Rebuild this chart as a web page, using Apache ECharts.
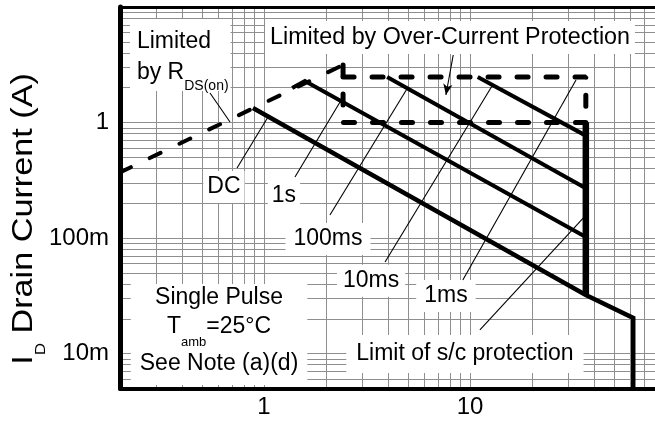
<!DOCTYPE html>
<html>
<head>
<meta charset="utf-8">
<script src="https://cdn.jsdelivr.net/npm/echarts@6/dist/echarts.min.js"></script>
<style>
html,body{margin:0;padding:0;background:#fff;}
#chart{width:655px;height:422px;}
</style>
</head>
<body>
<div id="chart"></div>
<script>
// ---------- axes ----------
const xRange = [0.2, 100];      // V_DS (V), log
const yRange = [0.005, 10];     // I_D (A), log
const xTickValues = [1, 10];
const xTickText = ['1', '10'];
const yTickValues = [0.01, 0.1, 1];
const yTickText = ['10m', '100m', '1'];
const xGridValues = [0.3,0.4,0.5,0.6,0.7,0.8,0.9,1,2,3,4,5,6,7,8,9,10,20,30,40,50,60,70,80,90];
const yGridValues = [0.006,0.007,0.008,0.009,0.01,0.02,0.03,0.04,0.05,0.06,0.07,0.08,0.09,
                     0.1,0.2,0.3,0.4,0.5,0.6,0.7,0.8,0.9,1,2,3,4,5,6,7,8,9];

// ---------- SOA boundaries [V_DS, I_D] ----------
const rdsOnLimit       = [[0.2, 0.37], [2.42, 3.15]];
const overCurrentLimit = [[2.42, 3.15], [2.42, 1.0], [36.5, 1.0]];
const pulse1ms         = [[2.42, 2.48], [36.5, 2.48], [36.5, 1.0]];
const pulse10ms        = [[10.9, 2.48], [36.5, 0.77]];
const pulse100ms       = [[3.96, 2.48], [36.5, 0.27]];
const pulse1s          = [[1.37, 1.99], [1.58, 2.29], [36.5, 0.102]];
const dcLine           = [[0.884, 1.335], [36.5, 0.0321], [62, 0.0203], [62, 0.005]];
const scProtection     = [[36.5, 1.0], [36.5, 0.0321]];

// ---------- leader lines [V_DS, I_D] ----------
const leaderRds   = [[0.547, 1.80], [0.684, 1.01]];
const leaderOcp   = [[8.29, 3.84], [7.64, 1.73]];
const leaderDC    = [[0.74, 0.404], [1.046, 1.116]];
const leader1s    = [[1.414, 0.337], [2.34, 1.505]];
const leader100ms = [[2.09, 0.158], [4.94, 1.95]];
const leader10ms  = [[3.87, 0.0619], [12.79, 2.07]];
const leader1ms   = [[9.23, 0.0433], [32.7, 2.334]];
const leaderSc    = [[11.17, 0.0160], [35.8, 0.152]];

// ---------- annotation texts and anchors (data coords) ----------
const noteTexts = {
  rds: 'Limited\n{m|by R}{s|DS(on)}',
  ocp: 'Limited by Over-Current Protection',
  dc: 'DC',
  s1: '1s',
  ms100: '100ms',
  ms10: '10ms',
  ms1: '1ms',
  sc: 'Limit of s/c protection',
  pulse: 'Single Pulse\n{t|T}{a|amb}{t|=25°C}\n{n|See Note (a)(d)}'
};
const noteAnchors = {
  rds: [0.2235, 7.87],
  ocp: [8.0, 5.44],
  dc: [0.639, 0.276],
  s1: [1.25, 0.231],
  ms100: [2.045, 0.0983],
  ms10: [3.31, 0.0426],
  ms1: [7.64, 0.0315],
  sc: [9.45, 0.00993],
  pulse: [0.605, 0.04]
};
const yTitle = '{m|I}{s|D}{m| Drain Current (A)}';

// ---------- styles ----------
const FONT = '"Liberation Sans", Arial, Helvetica, sans-serif';
const INK = '#000';
const GRID = '#8e8e8e';

function tickFormatter(values, texts) {
  return function (v) {
    const i = values.findIndex(t => Math.abs(Math.log10(v) - Math.log10(t)) < 1e-6);
    return i < 0 ? '' : texts[i];
  };
}
function curve(name, data, width, dash) {
  return {
    name, type: 'line', data, z: 4, showSymbol: false, symbol: 'none', silent: true,
    clip: true,
    lineStyle: dash
      ? { color: INK, width, type: dash, cap: 'round' }
      : { color: INK, width, cap: 'butt', join: 'miter' }
  };
}
function leader(name, data) {
  return { name, type: 'line', data, z: 3, showSymbol: false, symbol: 'none', silent: true,
           lineStyle: { color: INK, width: 1.1 } };
}

const gridSegments = xGridValues.map(v => ({ coords: [[v, yRange[0]], [v, yRange[1]]] }))
  .concat(yGridValues.map(v => ({ coords: [[xRange[0], v], [xRange[1], v]] })));

const chart = echarts.init(document.getElementById('chart'), null, { renderer: 'canvas' });

const option = {
  animation: false,
  backgroundColor: '#fff',
  grid: { left: 120, top: 7, width: 556, height: 381.3, containLabel: false, outerBoundsMode: 'none' },
  xAxis: [{
    type: 'log', logBase: 10, min: xRange[0], max: xRange[1], z: 6,
    axisLine: { show: true, lineStyle: { color: INK, width: 4 } },
    axisTick: { show: false },
    splitLine: { show: false },
    minorTick: { show: false }, minorSplitLine: { show: false },
    axisLabel: { show: true, margin: 7, color: INK, fontSize: 24, fontFamily: FONT,
                 formatter: tickFormatter(xTickValues, xTickText) }
  }, {
    type: 'log', logBase: 10, min: xRange[0], max: xRange[1], position: 'top', z: 6,
    axisLine: { show: true, lineStyle: { color: INK, width: 3 } },
    axisTick: { show: false }, splitLine: { show: false }, axisLabel: { show: false }
  }],
  yAxis: [{
    type: 'log', logBase: 10, min: yRange[0], max: yRange[1], z: 6,
    axisLine: { show: true, lineStyle: { color: INK, width: 5 } },
    axisTick: { show: false },
    splitLine: { show: false },
    axisLabel: { show: true, margin: 11, color: INK, fontSize: 24, fontFamily: FONT,
                 formatter: tickFormatter(yTickValues, yTickText) }
  }],
  series: [
    {
      name: 'grid', type: 'lines', coordinateSystem: 'cartesian2d', z: 1, silent: true,
      polyline: false, effect: { show: false },
      lineStyle: { color: GRID, width: 1, opacity: 1, curveness: 0 },
      data: gridSegments
    },
    curve('RDS(on) limit', rdsOnLimit, 4, [12, 21]),
    curve('Over-current limit', overCurrentLimit, 5, [11, 18]),
    curve('1ms', pulse1ms, 5, [11, 18]),
    curve('10ms', pulse10ms, 4),
    curve('100ms', pulse100ms, 4),
    curve('1s', pulse1s, 4),
    curve('DC', dcLine, 4.5),
    curve('s/c protection', scProtection, 6.5),
    leader('leader RDS', leaderRds),
    leader('leader DC', leaderDC),
    leader('leader 1s', leader1s),
    leader('leader 100ms', leader100ms),
    leader('leader 10ms', leader10ms),
    leader('leader 1ms', leader1ms),
    leader('leader s/c', leaderSc),
    {
      name: 'leader OCP', type: 'line', data: [], z: 3, silent: true,
      markLine: {
        silent: true, animation: false, symbol: ['none', 'arrow'], symbolSize: [7, 11],
        label: { show: false },
        lineStyle: { color: INK, width: 1.1, type: 'solid' },
        emphasis: { disabled: true },
        data: [[{ coord: leaderOcp[0] }, { coord: leaderOcp[1] }]]
      }
    }
  ]
};
chart.setOption(option);

// ---------- annotation boxes (positioned through the axes) ----------
const base = { fontFamily: FONT, fontSize: 23, fill: INK, backgroundColor: '#fff',
               align: 'center', verticalAlign: 'middle', lineHeight: 26 };
const tok = (size, lh, extra) => Object.assign({ fontFamily: FONT, fontSize: size, fill: INK, lineHeight: lh }, extra || {});
const noteStyles = {
  rds:   { align: 'left', verticalAlign: 'top', lineHeight: 31, padding: [7, 2, 3, 7],
           rich: { m: tok(23, 31), s: tok(14, 31, { padding: [28, 0, 0, 0] }) } },
  ocp:   { fontSize: 23.3, padding: [4, 5, 3, 5] },
  dc:    { padding: [3, 4, 3, 4] },
  s1:    { padding: [3, 4, 3, 4] },
  ms100: { padding: [3, 8, 3, 8] },
  ms10:  { padding: [3, 6, 3, 6] },
  ms1:   { padding: [3, 8, 3, 8] },
  sc:    { padding: [6, 10, 6, 10] },
  pulse: { verticalAlign: 'top', lineHeight: 28, padding: [0, 9, 0, 9],
           rich: { t: tok(23, 30), a: tok(13, 30, { padding: [30, 0, 0, 0] }), n: tok(23, 43) } }
};
const elements = Object.keys(noteTexts).map(k => {
  const p = chart.convertToPixel({ gridIndex: 0 }, noteAnchors[k]);
  return { type: 'text', x: p[0], y: p[1], z: 2, silent: true,
           style: Object.assign({}, base, noteStyles[k], { text: noteTexts[k] }) };
});
elements.push({
  type: 'text', x: 24, y: 219, rotation: Math.PI / 2, scaleX: 1.14, z: 2, silent: true,
  style: { text: yTitle, fontFamily: FONT, fontSize: 30, fill: INK, align: 'center', verticalAlign: 'middle',
           lineHeight: 40,
           rich: { m: tok(30, 40), s: tok(15, 40, { padding: [34, 0, 0, 0] }) } }
});
chart.setOption({ graphic: { z: 2, elements } });
</script>
</body>
</html>
